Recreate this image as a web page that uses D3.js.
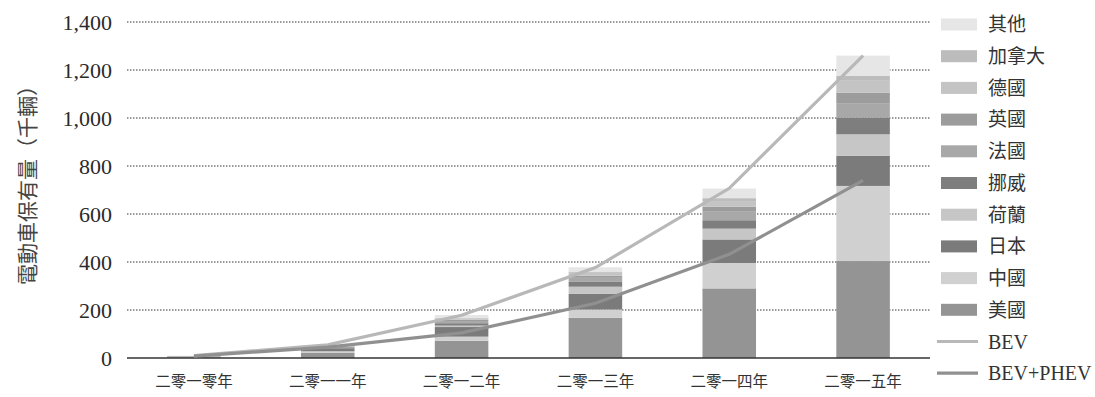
<!DOCTYPE html>
<html>
<head>
<meta charset="utf-8">
<script src="https://cdn.jsdelivr.net/npm/d3@7"></script>
<style>
  html, body { margin: 0; padding: 0; background: #ffffff; }
  svg { display: block; }
</style>
</head>
<body>
<svg id="chart" width="1095" height="397"></svg>
<script>
// Years on the x axis
const years = ["二零一零年", "二零一一年", "二零一二年", "二零一三年", "二零一四年", "二零一五年"];

// Electric car stock by country, thousands of vehicles (bottom to top of each stack)
const usa         = [2, 21, 72, 168, 290, 404];
const china       = [1, 7, 17, 34, 106, 313];
const japan       = [2, 13, 40, 66, 98, 125];
const netherlands = [0.3, 1, 6, 29, 45, 90];
const norway      = [1.5, 3, 10, 20, 35, 70];
const france      = [0.3, 2.5, 9, 17, 38, 60];
const uk          = [0.5, 1, 5, 9, 18, 44];
const germany     = [0.3, 1.5, 5, 12, 24, 52];
const canada      = [0.1, 0.5, 3, 5, 12, 17];
const others      = [1, 2.5, 12, 18, 40, 85];

// Series names in stacking order
const seriesNames = ["美國", "中國", "日本", "荷蘭", "挪威", "法國", "英國", "德國", "加拿大", "其他"];
const seriesValues = [usa, china, japan, netherlands, norway, france, uk, germany, canada, others];
const seriesColors = ["#949494", "#d0d0d0", "#7b7b7b", "#c6c6c6", "#7e7e7e", "#a8a8a8", "#9c9c9c", "#c4c4c4", "#bcbcbc", "#e6e6e6"];

// Totals drawn as lines
const bev     = [10, 55, 178, 377, 707, 1260];
const bevPhev = [8, 45, 105, 228, 432, 740];
const lineNames = ["BEV", "BEV+PHEV"];
const lineColors = ["#b8b8b8", "#909090"];

// Y axis ticks
const yTicks = [0, 200, 400, 600, 800, 1000, 1200, 1400];
const yTitle = "電動車保有量（千輛）";

const svg = d3.select("#chart");
const plotLeft = 127, plotRight = 930, plotTop = 22, plotBottom = 358;

const x = d3.scaleBand().domain(years).range([plotLeft, plotRight]).paddingInner(0.6).paddingOuter(0.3);
const y = d3.scaleLinear().domain([0, 1400]).range([plotBottom, plotTop]);

const latin = "'Liberation Serif', 'DejaVu Serif', serif";
const cjk = "'Noto Sans CJK TC', 'Noto Sans CJK SC', sans-serif";

// Dotted gridlines
svg.append("g").selectAll("line")
  .data(yTicks.filter(d => d > 0))
  .join("line")
  .attr("x1", plotLeft).attr("x2", plotRight)
  .attr("y1", d => y(d)).attr("y2", d => y(d))
  .attr("stroke", "#7a7a7a")
  .attr("stroke-width", 1.3)
  .attr("stroke-dasharray", "1.5,1.5");

// Stacked bars
const rows = years.map((yr, i) => {
  const r = { year: yr };
  seriesNames.forEach((n, k) => { r[n] = seriesValues[k][i]; });
  return r;
});
const stack = d3.stack().keys(seriesNames)(rows);

svg.append("g").selectAll("g")
  .data(stack)
  .join("g")
  .attr("fill", (d, k) => seriesColors[k])
  .selectAll("rect")
  .data(d => d)
  .join("rect")
  .attr("x", d => x(d.data.year))
  .attr("width", x.bandwidth())
  .attr("y", d => y(d[1]))
  .attr("height", d => y(d[0]) - y(d[1]));

// Baseline
svg.append("line")
  .attr("x1", plotLeft).attr("x2", plotRight)
  .attr("y1", y(0)).attr("y2", y(0))
  .attr("stroke", "#333")
  .attr("stroke-width", 1.3);

// Y tick labels
svg.append("g").selectAll("text")
  .data(yTicks)
  .join("text")
  .attr("x", 112)
  .attr("y", d => y(d))
  .attr("dy", "0.35em")
  .attr("text-anchor", "end")
  .attr("font-family", latin)
  .attr("font-size", 22)
  .attr("fill", "#2a2a2a")
  .text(d => d3.format(",")(d));

// X labels
svg.append("g").selectAll("text")
  .data(years)
  .join("text")
  .attr("x", d => x(d) + x.bandwidth() / 2)
  .attr("y", 382)
  .attr("dy", "0.35em")
  .attr("text-anchor", "middle")
  .attr("font-family", cjk)
  .attr("font-size", 15.5)
  .attr("fill", "#333")
  .text(d => d);

// Y axis title
svg.append("text")
  .attr("transform", "translate(28,180) rotate(-90)")
  .attr("text-anchor", "middle")
  .attr("dy", "0.35em")
  .attr("font-family", cjk)
  .attr("font-size", 21)
  .attr("fill", "#444")
  .text(yTitle);

// Lines
const lineGen = d3.line()
  .x((d, i) => x(years[i]) + x.bandwidth() / 2)
  .y(d => y(d));

[bev, bevPhev].forEach((vals, k) => {
  svg.append("path")
    .datum(vals)
    .attr("d", lineGen)
    .attr("fill", "none")
    .attr("stroke", lineColors[k])
    .attr("stroke-width", 3.2);
});

// Legend
const legendNames = seriesNames.slice().reverse();
const legendColors = seriesColors.slice().reverse();
const lg = svg.append("g");
const step = 31.7, y0 = 24.5;

legendNames.forEach((n, i) => {
  const cy = y0 + i * step;
  lg.append("rect")
    .attr("x", 941).attr("y", cy - 6)
    .attr("width", 36).attr("height", 12)
    .attr("fill", legendColors[i]);
  lg.append("text")
    .attr("x", 988).attr("y", cy)
    .attr("dy", "0.36em")
    .attr("font-family", cjk)
    .attr("font-size", 19)
    .attr("fill", "#333")
    .text(n);
});

lineNames.forEach((n, k) => {
  const cy = y0 + (legendNames.length + k) * step;
  lg.append("line")
    .attr("x1", 937).attr("x2", 978)
    .attr("y1", cy).attr("y2", cy)
    .attr("stroke", lineColors[k])
    .attr("stroke-width", 3.2);
  lg.append("text")
    .attr("x", 988).attr("y", cy)
    .attr("dy", "0.35em")
    .attr("font-family", latin)
    .attr("font-size", 20)
    .attr("fill", "#333")
    .text(n);
});
</script>
</body>
</html>
